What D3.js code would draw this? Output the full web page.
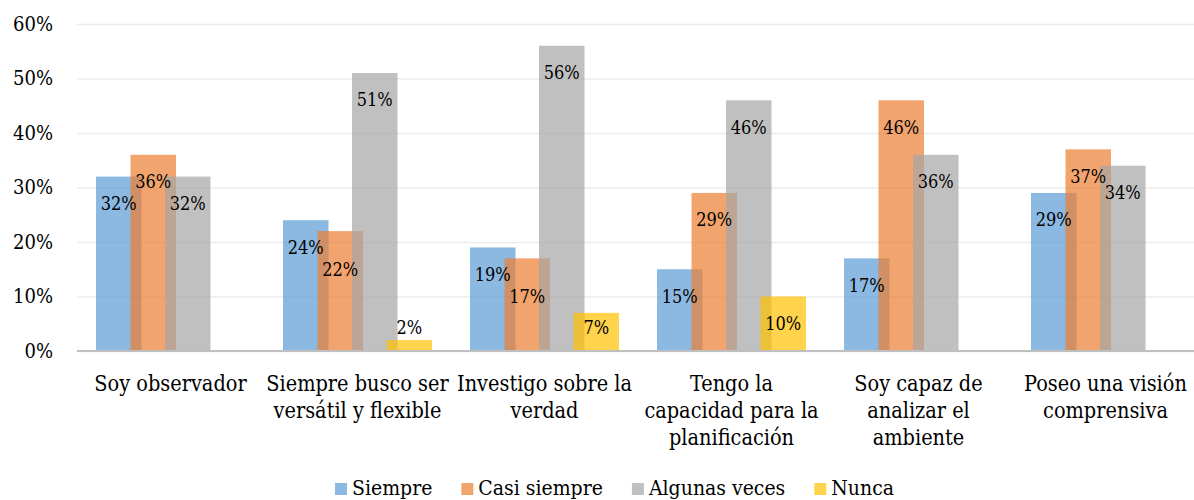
<!DOCTYPE html>
<html>
<head>
<meta charset="utf-8">
<script src="https://cdn.jsdelivr.net/npm/d3@7"></script>
<style>
  body { margin: 0; background: #fff; }
</style>
</head>
<body>
<div id="chart"></div>
<script>
var categories = ["Soy observador", "Siempre busco ser versátil y flexible", "Investigo sobre la verdad",
    "Tengo la capacidad para la planificación", "Soy capaz de analizar el ambiente", "Poseo una visión comprensiva"];
var seriesNames = ["Siempre", "Casi siempre", "Algunas veces", "Nunca"];
var siempre = [0.32, 0.24, 0.19, 0.15, 0.17, 0.29];
var casiSiempre = [0.36, 0.22, 0.17, 0.29, 0.46, 0.37];
var algunasVeces = [0.32, 0.51, 0.56, 0.46, 0.36, 0.34];
var nunca = [null, 0.02, 0.07, 0.10, null, null];
var yTicks = [0, 0.1, 0.2, 0.3, 0.4, 0.5, 0.6];
var colors = ["#5B9BD5", "#ED7D31", "#A5A5A5", "#FFC000"];

var values = [siempre, casiSiempre, algunasVeces, nunca];
// no Times here, so a condensed serif stands in for it
var FONT = "'DejaVu Serif Condensed', 'DejaVu Serif', serif";

var margin = {top: 24, right: 0, bottom: 149, left: 77},
    width = 1122,
    height = 327;

var svgRoot = d3.select("#chart").append("svg")
    .attr("width", 1194)
    .attr("height", 500);

var svg = svgRoot.append("g")
    .attr("transform", "translate(" + margin.left + "," + margin.top + ")");

var x0 = d3.scaleBand().domain(categories).range([0, width]).paddingInner(0);
// bars overlap: step is 34.5 but each bar is 45.5 wide
var x1 = d3.scaleBand().domain(seriesNames).range([19, 19 + 4 * 34.5]);
var barW = 45.5;
var y = d3.scaleLinear().domain([0, 0.6]).range([height, 0]);

// gridlines + y labels
var yAxis = svg.append("g")
    .call(d3.axisLeft(y)
        .tickValues(yTicks)
        .tickSize(-width)
        .tickPadding(24)
        .tickFormat(d3.format(".0%")));
yAxis.attr("font-family", null).attr("font-size", null);
yAxis.select(".domain").remove();
yAxis.selectAll(".tick line")
    .attr("stroke", "#ececec")
    .attr("stroke-width", 1.6);
yAxis.selectAll(".tick text")
    .attr("font-family", FONT)
    .attr("font-size", "20px")
    .attr("fill", "#000");

// bars, one series after the other so later ones sit on top
values.forEach(function(vals, s) {
    svg.append("g")
        .selectAll("rect")
        .data(vals.map(function(v, i) { return {v: v, cat: categories[i]}; }).filter(function(d) { return d.v != null; }))
        .enter().append("rect")
        .attr("x", function(d) { return x0(d.cat) + x1(seriesNames[s]); })
        .attr("y", function(d) { return y(d.v); })
        .attr("width", barW)
        .attr("height", function(d) { return height - y(d.v); })
        .attr("fill", colors[s])
        .attr("fill-opacity", 0.7);
});

// x axis line
svg.append("line")
    .attr("x1", 0).attr("x2", width)
    .attr("y1", height).attr("y2", height)
    .attr("stroke", "#bfbfbf")
    .attr("stroke-width", 2);

// data labels (inside end, nudged down when they crowd the previous one)
categories.forEach(function(cat, i) {
    var prev = null;
    values.forEach(function(vals, s) {
        var v = vals[i];
        if (v == null) return;
        var cy = Math.min(y(v) + 27, height - 23);
        if (prev != null && Math.abs(cy - prev) < 12) cy = prev + 22;
        prev = cy;
        svg.append("text")
            .attr("x", x0(cat) + x1(seriesNames[s]) + barW / 2)
            .attr("y", cy)
            .attr("dy", "0.35em")
            .attr("text-anchor", "middle")
            .attr("font-family", FONT)
            .attr("font-size", "18px")
            .text(d3.format(".0%")(v));
    });
});

// category labels, wrapped to the band width
var catG = svg.append("g").attr("transform", "translate(0," + (height + 40) + ")");
categories.forEach(function(cat) {
    var cx = x0(cat) + x0.bandwidth() / 2;
    var t = catG.append("text")
        .attr("x", cx)
        .attr("text-anchor", "middle")
        .attr("font-family", FONT)
        .attr("font-size", "21.5px");
    var words = cat.split(" "), line = [];
    var tspan = t.append("tspan").attr("x", cx).attr("dy", 0);
    words.forEach(function(w) {
        line.push(w);
        tspan.text(line.join(" "));
        if (tspan.node().getComputedTextLength() > x0.bandwidth() - 2 && line.length > 1) {
            line.pop();
            tspan.text(line.join(" "));
            line = [w];
            tspan = t.append("tspan")
                .attr("x", cx)
                .attr("dy", 27)
                .text(w);
        }
    });
});

// legend
var legend = svgRoot.append("g");
var lx = 0;
seriesNames.forEach(function(name, s) {
    var item = legend.append("g").attr("transform", "translate(" + lx + ",0)");
    item.append("rect")
        .attr("x", 0).attr("y", -12)
        .attr("width", 12).attr("height", 12)
        .attr("fill", colors[s])
        .attr("fill-opacity", 0.7);
    var txt = item.append("text")
        .attr("x", 17)
        .attr("y", 0)
        .attr("font-family", FONT)
        .attr("font-size", "21px")
        .text(name);
    lx += 17 + txt.node().getComputedTextLength() + 29;
});
lx -= 29;
legend.attr("transform", "translate(" + (614.5 - lx / 2) + ",495)");
</script>
</body>
</html>
